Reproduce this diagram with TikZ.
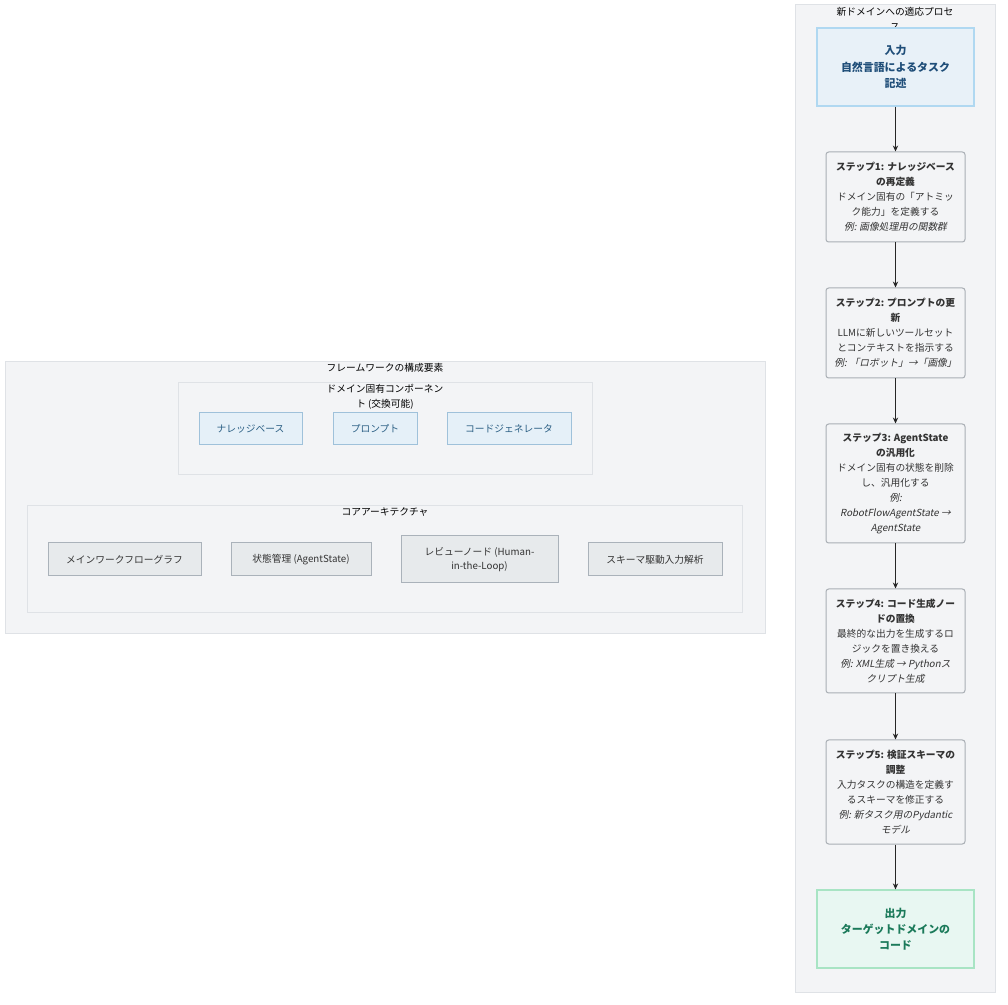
\documentclass[tikz,border=0pt]{standalone}
\usepackage{fontspec}
\setmainfont{Noto Sans CJK JP}
\newfontfamily\itjp[FakeSlant=0.2]{Noto Sans CJK JP}
\usetikzlibrary{arrows.meta}
\definecolor{panelfill}{HTML}{F3F4F6}
\definecolor{panelline}{HTML}{DFE2E6}
\definecolor{stepline}{HTML}{A9AEB4}
\definecolor{infill}{HTML}{E8F1F8}
\definecolor{inline}{HTML}{B0D8F1}
\definecolor{intext}{HTML}{1F4E79}
\definecolor{outfill}{HTML}{E8F7F2}
\definecolor{outline}{HTML}{A8E4C4}
\definecolor{outtext}{HTML}{1B7A5A}
\definecolor{domfill}{HTML}{E5F0F8}
\definecolor{domline}{HTML}{9FC1DA}
\definecolor{domtext}{HTML}{2B5F84}
\definecolor{corefill}{HTML}{E7EAEC}
\definecolor{coreline}{HTML}{AAB2BA}
\definecolor{txt}{HTML}{333333}
\tikzset{
  panel/.style={draw=panelline, fill=panelfill, line width=0.75pt},
  grp/.style={draw=panelline, fill=panelfill, line width=0.75pt},
  ttl/.style={font=\fontsize{7.3}{11.2}\selectfont, text=black, align=center, inner sep=0pt},
  stepbox/.style={draw=stepline, fill=panelfill, rounded corners=2pt, line width=0.75pt,
    minimum width=139*0.75pt, align=center, inner sep=0pt, text=txt,
    font=\fontsize{7.3}{11.2}\selectfont},
  iobox/.style={line width=0.9pt, minimum width=157*0.75pt, minimum height=78*0.75pt,
    align=center, inner sep=0pt, font=\bfseries\fontsize{8.2}{12.2}\selectfont},
  dombox/.style={draw=domline, fill=domfill, text=domtext, line width=0.75pt,
    minimum height=32*0.75pt, inner sep=0pt, font=\fontsize{7.3}{11}\selectfont},
  corebox/.style={draw=coreline, fill=corefill, text=txt, line width=0.75pt,
    minimum height=33*0.75pt, inner sep=0pt, align=center, font=\fontsize{7.3}{11}\selectfont},
  arr/.style={draw=black!85, line width=0.6pt, -{Stealth[length=4.5pt,width=4pt]}}
}
\begin{document}
\begin{tikzpicture}[x=0.75pt,y=-0.75pt]
\useasboundingbox (0,0) rectangle (1008,1005);
% ---------- right panel ----------
\draw[panel] (795,5) rectangle (995,992);
\node[ttl] (rtitle) at (895,19.5) {新ドメインへの適応プロセ\\ス};
\node[iobox, draw=inline, fill=infill, text=intext] (in) at (895.5,67) {入力\\自然言語によるタスク\\記述};
\node[stepbox, minimum height=90*0.75pt] (s1) at (895.5,197) {\textbf{ステップ1: ナレッジベース}\\\textbf{の再定義}\\ドメイン固有の「アトミッ\\ク能力」を定義する\\{\itjp 例: 画像処理用の関数群}};
\node[stepbox, minimum height=90*0.75pt] (s2) at (895.5,333) {\textbf{ステップ2: プロンプトの更}\\\textbf{新}\\LLMに新しいツールセット\\とコンテキストを指示する\\{\itjp 例: 「ロボット」→「画像」}};
\node[stepbox, minimum height=119*0.75pt] (s3) at (895.5,483.5) {\textbf{ステップ3: AgentState}\\\textbf{の汎用化}\\ドメイン固有の状態を削除\\し、汎用化する\\{\itjp 例:}\\{\itjp RobotFlowAgentState →}\\{\itjp AgentState}};
\node[stepbox, minimum height=104*0.75pt] (s4) at (895.5,641) {\textbf{ステップ4: コード生成ノー}\\\textbf{ドの置換}\\最終的な出力を生成するロ\\ジックを置き換える\\{\itjp 例: XML生成 → Pythonス}\\{\itjp クリプト生成}};
\node[stepbox, minimum height=104*0.75pt] (s5) at (895.5,792) {\textbf{ステップ5: 検証スキーマの}\\\textbf{調整}\\入力タスクの構造を定義す\\るスキーマを修正する\\{\itjp 例: 新タスク用のPydantic}\\{\itjp モデル}};
\node[iobox, draw=outline, fill=outfill, text=outtext] (out) at (895.5,929) {出力\\ターゲットドメインの\\コード};
\draw[arr] (in) -- (s1);
\draw[arr] (s1) -- (s2);
\draw[arr] (s2) -- (s3);
\draw[arr] (s3) -- (s4);
\draw[arr] (s4) -- (s5);
\draw[arr] (s5) -- (out);
% ---------- left panel ----------
\draw[panel] (5,362) rectangle (765,634);
\node[ttl] (ltitle) at (385,368) {フレームワークの構成要素};
\draw[grp] (178,383) rectangle (592,475);
\node[ttl] (domtitle) at (385,396.5) {ドメイン固有コンポーネン\\ト (交換可能)};
\node[dombox, minimum width=103*0.75pt] (kb) at (250.5,429) {ナレッジベース};
\node[dombox, minimum width=84*0.75pt] (pr) at (375,429) {プロンプト};
\node[dombox, minimum width=124*0.75pt] (cg) at (509,429) {コードジェネレータ};
\draw[grp] (27,506) rectangle (742,613);
\node[ttl] (coretitle) at (385,512) {コアアーキテクチャ};
\node[corebox, minimum width=153*0.75pt] (wf) at (124.5,559.5) {メインワークフローグラフ};
\node[corebox, minimum width=140*0.75pt] (st) at (301,559.5) {状態管理 (AgentState)};
\node[corebox, minimum width=157*0.75pt, minimum height=47*0.75pt] (rv) at (479.5,559.5) {レビューノード (Human-\\in-the-Loop)};
\node[corebox, minimum width=134*0.75pt] (sc) at (655,559.5) {スキーマ駆動入力解析};
\end{tikzpicture}
\end{document}
